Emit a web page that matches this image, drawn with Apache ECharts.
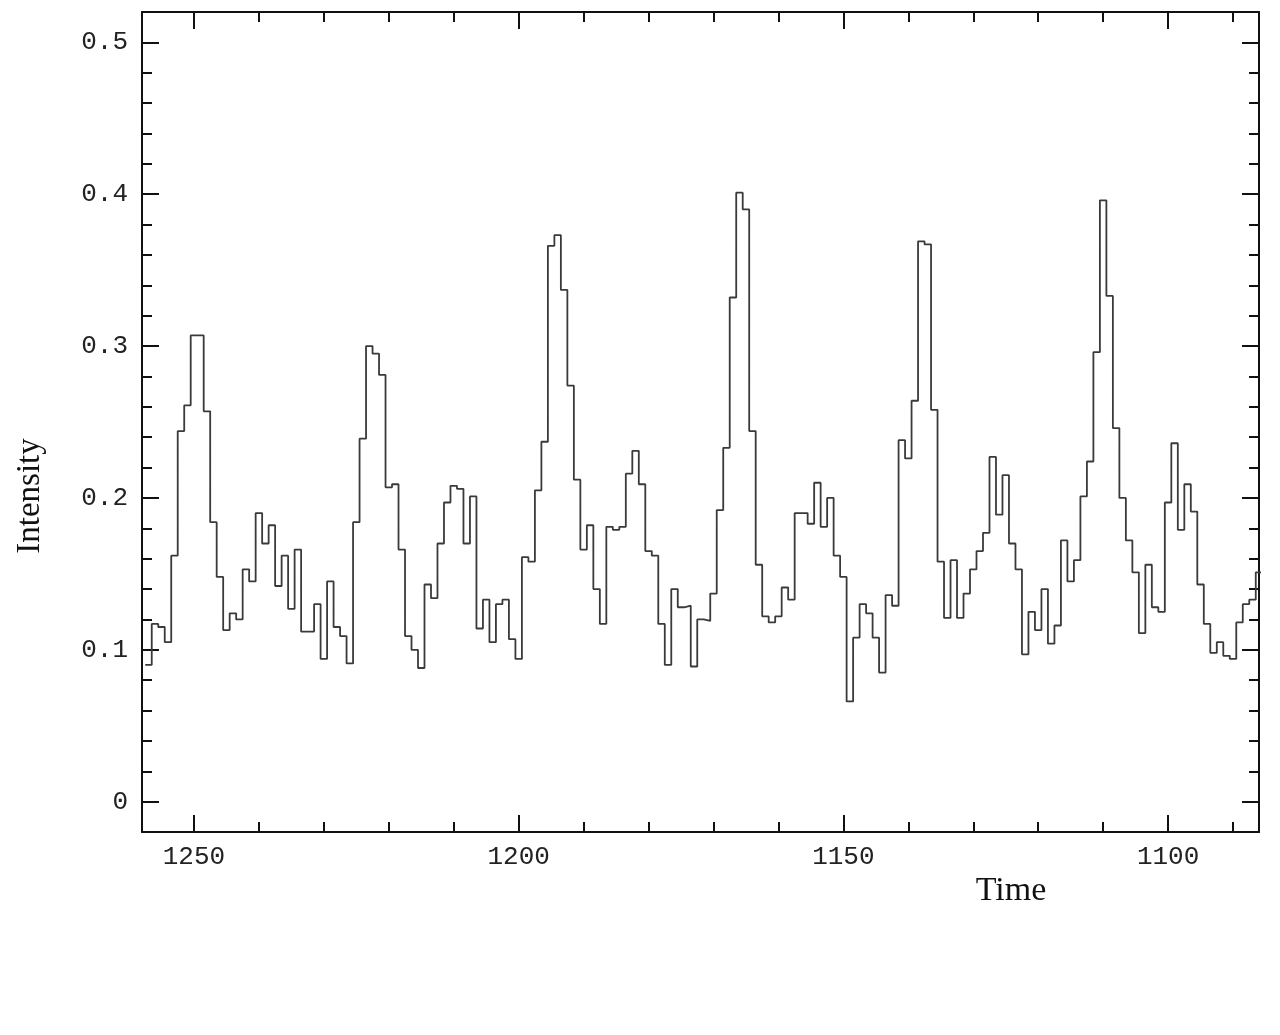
<!DOCTYPE html>
<html>
<head>
<meta charset="utf-8">
<title>Intensity vs Time</title>
<script src="https://cdn.jsdelivr.net/npm/echarts@6/dist/echarts.min.js"></script>
<style>
  html, body { margin: 0; padding: 0; background: #fff; }
  #chart { width: 1280px; height: 1035px; }
</style>
</head>
<body>
<div id="chart"></div>
<script>
  // binned light curve: one value per time bin, bins centred on 1257, 1256, ... 1086
  var firstBin = 1257;
  var binWidth = 1;
  var intensity = [
    0.090, 0.117, 0.115, 0.105, 0.162, 0.244, 0.261, 0.307, 0.307, 0.257,
    0.184, 0.148, 0.113, 0.124, 0.120, 0.153, 0.145, 0.190, 0.170, 0.182,
    0.142, 0.162, 0.127, 0.166, 0.112, 0.112, 0.130, 0.094, 0.145, 0.115,
    0.109, 0.091, 0.184, 0.239, 0.300, 0.295, 0.281, 0.207, 0.209, 0.166,
    0.109, 0.100, 0.088, 0.143, 0.134, 0.170, 0.197, 0.208, 0.206, 0.170,
    0.201, 0.114, 0.133, 0.105, 0.130, 0.133, 0.107, 0.094, 0.161, 0.158,
    0.205, 0.237, 0.366, 0.373, 0.337, 0.274, 0.212, 0.166, 0.182, 0.140,
    0.117, 0.181, 0.179, 0.181, 0.216, 0.231, 0.209, 0.165, 0.162, 0.117,
    0.090, 0.140, 0.128, 0.129, 0.089, 0.120, 0.119, 0.137, 0.192, 0.233,
    0.332, 0.401, 0.390, 0.244, 0.156, 0.122, 0.118, 0.122, 0.141, 0.133,
    0.190, 0.190, 0.183, 0.210, 0.181, 0.200, 0.162, 0.148, 0.066, 0.108,
    0.130, 0.124, 0.108, 0.085, 0.136, 0.129, 0.238, 0.226, 0.264, 0.369,
    0.367, 0.258, 0.158, 0.121, 0.159, 0.121, 0.137, 0.153, 0.165, 0.177,
    0.227, 0.189, 0.215, 0.170, 0.153, 0.097, 0.125, 0.113, 0.140, 0.104,
    0.116, 0.172, 0.145, 0.159, 0.201, 0.224, 0.296, 0.396, 0.333, 0.246,
    0.200, 0.172, 0.151, 0.111, 0.156, 0.128, 0.125, 0.197, 0.236, 0.179,
    0.209, 0.191, 0.143, 0.117, 0.098, 0.105, 0.096, 0.094, 0.118, 0.130,
    0.133, 0.151
  ];

  var xMajorTicks = [1250, 1200, 1150, 1100];
  var xMinorTicks = [1240, 1230, 1220, 1210, 1190, 1180, 1170, 1160, 1140, 1130, 1120, 1110, 1090];
  var yMajorTicks = [0, 0.1, 0.2, 0.3, 0.4, 0.5];
  var yMinorTicks = [0.02, 0.04, 0.06, 0.08, 0.12, 0.14, 0.16, 0.18, 0.22, 0.24, 0.26, 0.28,
                     0.32, 0.34, 0.36, 0.38, 0.42, 0.44, 0.46, 0.48];

  // histogram outline: each bin starts at its upper edge, steps at the next edge
  var steps = intensity.map(function (v, i) {
    return [firstBin - i * binWidth + binWidth / 2, v];
  });
  steps.push([firstBin - (intensity.length - 1) * binWidth - binWidth / 2, intensity[intensity.length - 1]]);

  var axisColor = '#111';
  var labelFont = {
    color: '#222',
    fontFamily: 'Liberation Mono',
    fontSize: 26
  };

  function xAxisDef (position, ticks, len, withLine, withLabels) {
    return {
      type: 'value',
      position: position,
      inverse: true,
      min: 1086,
      max: 1258,
      axisLine: { show: withLine, onZero: false, lineStyle: { color: axisColor, width: 2 } },
      axisTick: { show: true, inside: true, length: len, customValues: ticks,
        lineStyle: { color: axisColor, width: 2 } },
      axisLabel: withLabels
        ? Object.assign({
            show: true,
            margin: 12,
            customValues: ticks,
            formatter: function (v) { return String(v); }
          }, labelFont)
        : { show: false },
      splitLine: { show: false }
    };
  }

  function yAxisDef (position, ticks, len, withLine, withLabels) {
    return {
      type: 'value',
      position: position,
      min: -0.02,
      max: 0.52,
      axisLine: { show: withLine, onZero: false, lineStyle: { color: axisColor, width: 2 } },
      axisTick: { show: true, inside: true, length: len, customValues: ticks,
        lineStyle: { color: axisColor, width: 2 } },
      axisLabel: withLabels
        ? Object.assign({
            show: true,
            margin: 14,
            customValues: ticks,
            formatter: function (v) { return v === 0 ? '0' : v.toFixed(1); }
          }, labelFont)
        : { show: false },
      splitLine: { show: false }
    };
  }

  var myChart = echarts.init(document.getElementById('chart'), null, { renderer: 'canvas' });
  myChart.setOption({
    animation: false,
    backgroundColor: '#fff',
    grid: { left: 142, right: 21, top: 12, bottom: 203 },
    xAxis: [
      xAxisDef('bottom', xMajorTicks, 17, true, true),
      xAxisDef('bottom', xMinorTicks, 10, false, false),
      xAxisDef('top', xMajorTicks, 17, true, false),
      xAxisDef('top', xMinorTicks, 10, false, false)
    ],
    yAxis: [
      yAxisDef('left', yMajorTicks, 17, true, true),
      yAxisDef('left', yMinorTicks, 10, false, false),
      yAxisDef('right', yMajorTicks, 17, true, false),
      yAxisDef('right', yMinorTicks, 10, false, false)
    ],
    series: [
      {
        name: 'Intensity',
        type: 'line',
        step: 'end',
        xAxisIndex: 0,
        yAxisIndex: 0,
        symbol: 'none',
        lineStyle: { color: '#3a3a3a', width: 1.8 },
        data: steps
      }
    ],
    graphic: [
      {
        type: 'text',
        x: 1011,
        y: 891,
        style: {
          text: 'Time',
          font: '34px "Liberation Serif"',
          fill: '#111',
          align: 'center',
          verticalAlign: 'middle'
        }
      },
      {
        type: 'text',
        x: 30,
        y: 496,
        rotation: Math.PI / 2,
        style: {
          text: 'Intensity',
          font: '33px "Liberation Serif"',
          fill: '#111',
          align: 'center',
          verticalAlign: 'middle'
        }
      }
    ]
  });
</script>
</body>
</html>
